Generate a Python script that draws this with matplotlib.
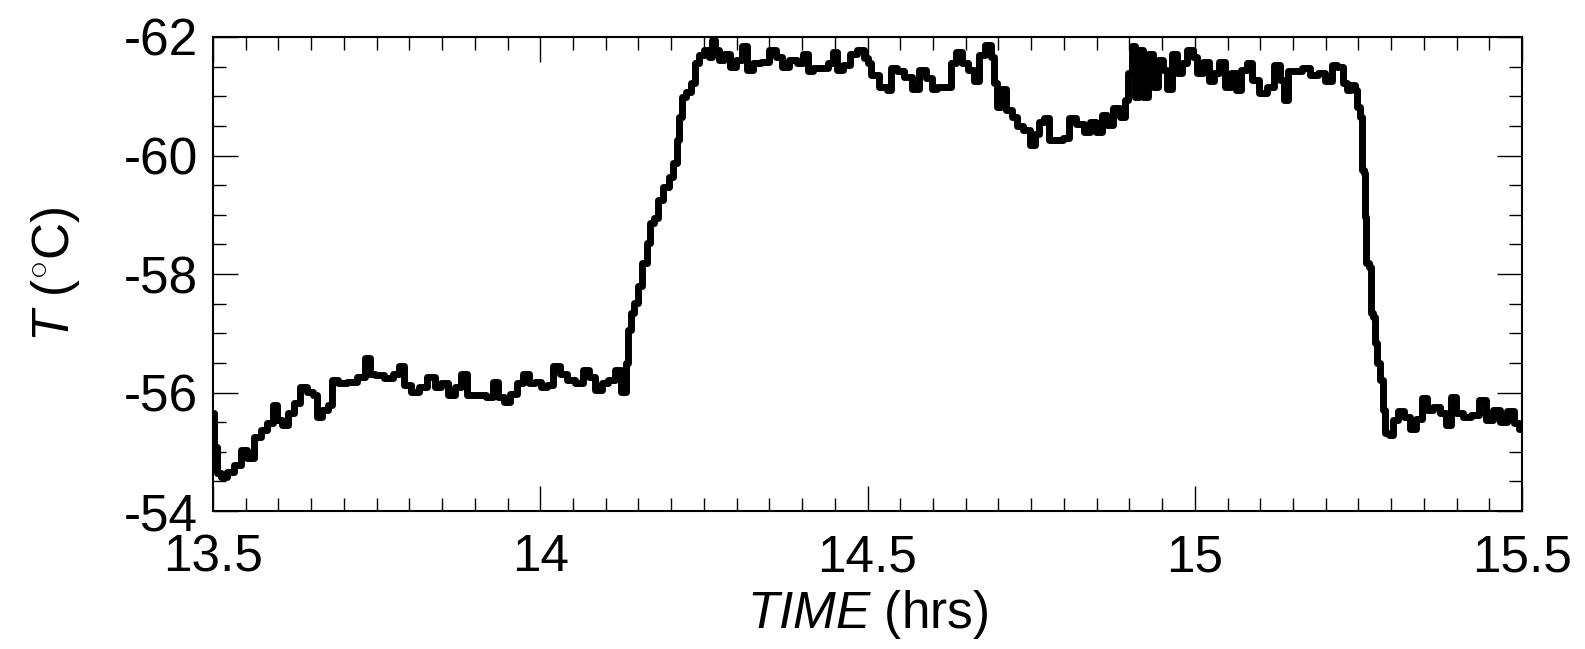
import matplotlib
matplotlib.use("Agg")
import matplotlib.pyplot as plt
from matplotlib.ticker import MultipleLocator, FuncFormatter

plt.rcParams['font.family'] = ['Liberation Sans', 'DejaVu Sans']
plt.rcParams['axes.unicode_minus'] = False
plt.rcParams['mathtext.fontset'] = 'custom'
plt.rcParams['mathtext.rm'] = 'Liberation Sans'
plt.rcParams['mathtext.it'] = 'Liberation Sans:italic'

time_hrs = [
    13.500, 13.503, 13.508, 13.516, 13.526, 13.539, 13.546, 13.557, 13.569, 13.579,
    13.587, 13.595, 13.602, 13.610, 13.620, 13.628, 13.638, 13.648, 13.656, 13.663,
    13.671, 13.679, 13.686, 13.697, 13.712, 13.727, 13.737, 13.742, 13.753, 13.768,
    13.781, 13.788, 13.796, 13.809, 13.821, 13.834, 13.844, 13.854, 13.865, 13.875,
    13.882, 13.893, 13.911, 13.923, 13.931, 13.939, 13.949, 13.959, 13.969, 13.979,
    13.987, 13.997, 14.005,
    14.015, 14.025, 14.035, 14.048, 14.058, 14.071, 14.079, 14.089, 14.099, 14.109,
    14.118, 14.129, 14.132, 14.137, 14.140, 14.147, 14.152, 14.160, 14.165, 14.170,
    14.178, 14.183, 14.191, 14.201, 14.206, 14.211, 14.214, 14.219, 14.226, 14.234,
    14.239, 14.247, 14.254, 14.262, 14.264, 14.270, 14.277, 14.285, 14.295, 14.303,
    14.313, 14.320, 14.331, 14.343, 14.356, 14.364, 14.374, 14.387, 14.397, 14.407,
    14.412, 14.422, 14.435, 14.445, 14.450, 14.458, 14.468, 14.478, 14.489, 14.499,
    14.501, 14.511, 14.524, 14.534, 14.539, 14.550, 14.562, 14.573, 14.585, 14.595,
    14.601, 14.611, 14.623, 14.631, 14.639, 14.649, 14.659, 14.667, 14.674, 14.685,
    14.691, 14.695, 14.700, 14.707, 14.715, 14.725, 14.733, 14.743, 14.753, 14.759,
    14.766, 14.774, 14.781, 14.794, 14.804, 14.812, 14.825, 14.835, 14.845, 14.853,
    14.863, 14.870, 14.881, 14.891, 14.896, 14.901, 14.906, 14.911, 14.919, 14.924,
    14.932, 14.939, 14.947, 14.955, 14.960, 14.970, 14.977,
    14.983, 14.993, 15.000, 15.008, 15.016, 15.026, 15.034, 15.041, 15.051, 15.059,
    15.067, 15.074, 15.084, 15.092, 15.105, 15.115, 15.128, 15.133, 15.140, 15.146,
    15.158, 15.171, 15.181, 15.194, 15.204, 15.214, 15.222, 15.230, 15.235, 15.242,
    15.247, 15.250, 15.255, 15.256, 15.260, 15.261, 15.263, 15.268, 15.270, 15.275,
    15.277, 15.280, 15.286, 15.288, 15.293, 15.301, 15.306, 15.314, 15.324, 15.334,
    15.342, 15.352, 15.359, 15.370, 15.380, 15.387, 15.395, 15.403, 15.415, 15.428,
    15.441, 15.449, 15.461, 15.471, 15.484, 15.492, 15.500,
]

temp_c = [
    -55.65, -55.08, -54.64, -54.58, -54.66, -54.78, -55.03, -54.89, -55.25, -55.37,
    -55.48, -55.79, -55.54, -55.45, -55.65, -55.82, -56.10, -56.01, -55.96, -55.59,
    -55.70, -55.79, -56.21, -56.16, -56.18, -56.27, -56.58, -56.32, -56.30, -56.24,
    -56.32, -56.44, -56.13, -56.01, -56.10, -56.27, -56.10, -56.16, -55.96, -56.10,
    -56.32, -55.96, -55.96, -55.93, -56.18, -55.93, -55.84, -55.98, -56.16, -56.32,
    -56.16, -56.18, -56.10,
    -56.13, -56.44, -56.32, -56.21, -56.16, -56.38, -56.27, -56.04, -56.16, -56.21,
    -56.38, -56.01, -56.49, -57.05, -57.34, -57.51, -57.79, -58.18, -58.52, -58.86,
    -58.94, -59.25, -59.47, -59.64, -59.87, -60.26, -60.65, -60.99, -61.08, -61.22,
    -61.56, -61.70, -61.78, -61.67, -61.95, -61.78, -61.61, -61.72, -61.50, -61.61,
    -61.84, -61.44, -61.56, -61.58, -61.78, -61.67, -61.50, -61.61, -61.56, -61.72,
    -61.42, -61.47, -61.47, -61.56, -61.75, -61.44, -61.53, -61.72, -61.78, -61.64,
    -61.56, -61.36, -61.16, -61.11, -61.47, -61.42, -61.33, -61.13, -61.44, -61.30,
    -61.13, -61.16, -61.16, -61.56, -61.75, -61.56, -61.44, -61.25, -61.70, -61.86,
    -61.67, -61.22, -60.82, -61.13, -60.77, -60.65, -60.49, -60.43, -60.18, -60.37,
    -60.57, -60.63, -60.26, -60.26, -60.29, -60.63, -60.54, -60.40, -60.57, -60.40,
    -60.68, -60.51, -60.80, -60.65, -60.94, -61.39, -61.84, -60.99, -61.78, -60.99,
    -61.72, -61.16, -61.61, -61.44, -61.13, -61.72, -61.39,
    -61.56, -61.78, -61.67, -61.39, -61.58, -61.25, -61.39, -61.58, -61.16, -61.39,
    -61.11, -61.44, -61.56, -61.27, -61.05, -61.16, -61.53, -61.27, -60.94, -61.42,
    -61.42, -61.47, -61.36, -61.39, -61.25, -61.53, -61.50, -61.22, -61.11, -61.19,
    -61.11, -60.82, -60.65, -59.76, -59.70, -58.97, -58.18, -58.12, -57.34, -57.28,
    -56.83, -56.49, -56.21, -55.70, -55.31, -55.28, -55.54, -55.68, -55.59, -55.39,
    -55.56, -55.90, -55.70, -55.76, -55.65, -55.45, -55.93, -55.65, -55.59, -55.62,
    -55.87, -55.54, -55.70, -55.51, -55.68, -55.48, -55.39,
]

x_ticks = [13.5, 14, 14.5, 15, 15.5]
y_ticks = [-62, -60, -58, -56, -54]

fig = plt.figure(figsize=(15.85, 6.49), dpi=100)
ax = fig.add_axes([0.1344, 0.2126, 0.8259, 0.7304])

ax.plot(time_hrs, temp_c, color='black', linewidth=5.0, drawstyle='steps-mid',
        solid_joinstyle='round', solid_capstyle='round', clip_on=True)

ax.set_xlim(13.5, 15.5)
ax.set_ylim(-54, -62)
ax.set_xticks(x_ticks)
ax.set_yticks(y_ticks)
ax.xaxis.set_minor_locator(MultipleLocator(0.05))
ax.yaxis.set_minor_locator(MultipleLocator(0.5))
ax.xaxis.set_major_formatter(FuncFormatter(lambda v, p: '%g' % v))
ax.yaxis.set_major_formatter(FuncFormatter(lambda v, p: '%g' % v))

ax.tick_params(which='both', direction='in', top=True, right=True,
               labelsize=37, colors='black')
ax.tick_params(which='major', length=18, width=1.0)
ax.tick_params(which='minor', length=9.5, width=1.0)
ax.tick_params(axis='x', which='major', pad=16)
ax.tick_params(axis='y', which='major', pad=11)

for s in ax.spines.values():
    s.set_linewidth(1.5)

ax.set_xlabel(r'$\mathit{TIME}$ (hrs)', fontsize=37, labelpad=4)
ax.set_ylabel(r'$\mathit{T}$ ($^{\circ}$C)', fontsize=37, labelpad=30)

fig.savefig('out.png', dpi=100)
